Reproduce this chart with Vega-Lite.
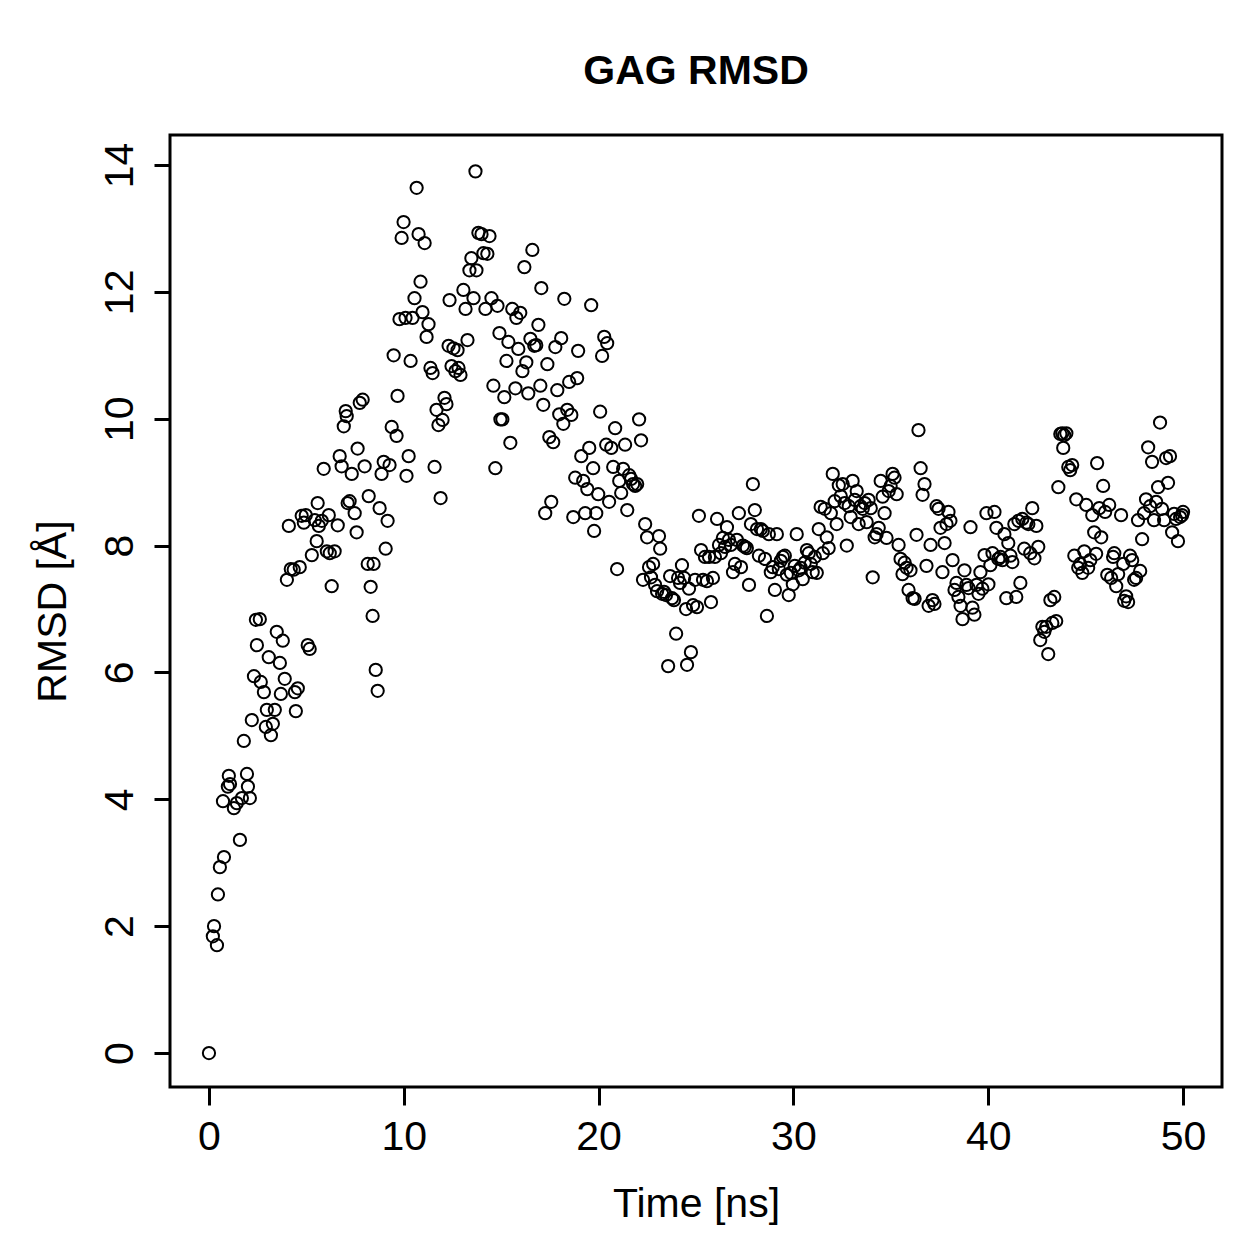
{
"$schema": "https://vega.github.io/schema/vega-lite/v6.json",
"width": 1052,
"height": 952,
"autosize": "none",
"padding": {"left": 170, "top": 135, "right": 37, "bottom": 172},
"background": "white",
"title": {"text": "GAG RMSD", "font": "Liberation Sans", "fontSize": 41, "fontWeight": "bold", "color": "black", "anchor": "middle", "frame": "group", "baseline": "alphabetic", "offset": 10},
"config": {"view": {"stroke": "black", "strokeWidth": 3}},
"data": {"values": [
{"t":0,"r":0},{"t":0.2,"r":1.84},{"t":0.26,"r":2.0},{"t":0.41,"r":1.7},{"t":0.46,"r":2.5},{"t":0.56,"r":2.93},{"t":0.72,"r":3.97},{"t":0.77,"r":3.09},{"t":0.97,"r":4.2},{"t":1.02,"r":4.37},
{"t":1.08,"r":4.24},{"t":1.28,"r":3.86},{"t":1.43,"r":3.94},{"t":1.59,"r":3.36},{"t":1.69,"r":4.02},{"t":1.79,"r":4.92},{"t":1.95,"r":4.4},{"t":2.0,"r":4.2},{"t":2.1,"r":4.02},{"t":2.2,"r":5.25},
{"t":2.31,"r":5.94},{"t":2.41,"r":6.83},{"t":2.46,"r":6.43},{"t":2.61,"r":6.84},{"t":2.66,"r":5.85},{"t":2.82,"r":5.69},{"t":2.92,"r":5.14},{"t":2.97,"r":5.41},{"t":3.07,"r":6.24},{"t":3.18,"r":5.01},
{"t":3.28,"r":5.19},{"t":3.38,"r":5.41},{"t":3.48,"r":6.64},{"t":3.64,"r":6.15},{"t":3.69,"r":5.66},{"t":3.79,"r":6.5},{"t":3.89,"r":5.9},{"t":4.0,"r":7.46},{"t":4.1,"r":8.31},{"t":4.2,"r":7.63},
{"t":4.35,"r":7.62},{"t":4.41,"r":5.69},{"t":4.46,"r":5.39},{"t":4.56,"r":5.75},{"t":4.66,"r":7.66},{"t":4.76,"r":8.47},{"t":4.87,"r":8.36},{"t":4.97,"r":8.48},{"t":5.07,"r":6.43},{"t":5.17,"r":6.37},
{"t":5.28,"r":7.85},{"t":5.43,"r":8.4},{"t":5.53,"r":8.07},{"t":5.58,"r":8.67},{"t":5.64,"r":8.31},{"t":5.79,"r":8.39},{"t":5.89,"r":9.21},{"t":6.05,"r":7.91},{"t":6.15,"r":8.48},{"t":6.2,"r":7.88},
{"t":6.3,"r":7.36},{"t":6.45,"r":7.91},{"t":6.61,"r":8.32},{"t":6.71,"r":9.41},{"t":6.81,"r":9.25},{"t":6.92,"r":9.88},{"t":7.02,"r":10.12},{"t":7.07,"r":10.04},{"t":7.12,"r":8.67},{"t":7.22,"r":8.7},
{"t":7.33,"r":9.13},{"t":7.48,"r":8.51},{"t":7.58,"r":8.21},{"t":7.63,"r":9.53},{"t":7.74,"r":10.25},{"t":7.89,"r":10.3},{"t":7.99,"r":9.25},{"t":8.15,"r":7.71},{"t":8.2,"r":8.78},{"t":8.3,"r":7.35},
{"t":8.4,"r":6.89},{"t":8.45,"r":7.71},{"t":8.56,"r":6.04},{"t":8.66,"r":5.71},{"t":8.76,"r":8.59},{"t":8.86,"r":9.13},{"t":8.97,"r":9.32},{"t":9.07,"r":7.95},{"t":9.17,"r":8.39},{"t":9.27,"r":9.27},
{"t":9.38,"r":9.87},{"t":9.48,"r":11.0},{"t":9.63,"r":9.73},{"t":9.68,"r":10.36},{"t":9.78,"r":11.57},{"t":9.89,"r":12.85},{"t":9.99,"r":13.1},{"t":10.09,"r":11.59},{"t":10.14,"r":9.1},{"t":10.25,"r":9.41},
{"t":10.35,"r":10.91},{"t":10.45,"r":11.59},{"t":10.55,"r":11.9},{"t":10.66,"r":13.64},{"t":10.76,"r":12.91},{"t":10.86,"r":12.16},{"t":10.96,"r":11.68},{"t":11.07,"r":12.77},{"t":11.17,"r":11.29},{"t":11.27,"r":11.49},
{"t":11.37,"r":10.8},{"t":11.48,"r":10.72},{"t":11.58,"r":9.24},{"t":11.68,"r":10.14},{"t":11.78,"r":9.9},{"t":11.89,"r":8.75},{"t":11.99,"r":9.98},{"t":12.09,"r":10.33},{"t":12.19,"r":10.23},{"t":12.3,"r":11.15},
{"t":12.35,"r":11.87},{"t":12.45,"r":10.83},{"t":12.55,"r":11.11},{"t":12.65,"r":10.75},{"t":12.76,"r":11.08},{"t":12.81,"r":10.8},{"t":12.91,"r":10.69},{"t":13.06,"r":12.03},{"t":13.17,"r":11.73},{"t":13.27,"r":11.24},
{"t":13.37,"r":12.34},{"t":13.47,"r":12.53},{"t":13.58,"r":11.9},{"t":13.68,"r":13.9},{"t":13.73,"r":12.34},{"t":13.83,"r":12.93},{"t":13.99,"r":12.91},{"t":14.09,"r":12.61},{"t":14.19,"r":11.73},{"t":14.29,"r":12.6},
{"t":14.4,"r":12.88},{"t":14.5,"r":11.9},{"t":14.6,"r":10.52},{"t":14.7,"r":9.22},{"t":14.81,"r":11.78},{"t":14.91,"r":11.35},{"t":14.96,"r":9.99},{"t":15.06,"r":9.99},{"t":15.16,"r":10.34},{"t":15.27,"r":10.91},
{"t":15.37,"r":11.21},{"t":15.47,"r":9.62},{"t":15.57,"r":11.73},{"t":15.73,"r":10.48},{"t":15.78,"r":11.59},{"t":15.88,"r":11.1},{"t":15.98,"r":11.67},{"t":16.09,"r":10.75},{"t":16.19,"r":12.39},{"t":16.29,"r":10.89},
{"t":16.39,"r":10.4},{"t":16.5,"r":11.26},{"t":16.6,"r":12.66},{"t":16.7,"r":11.15},{"t":16.8,"r":11.16},{"t":16.91,"r":11.48},{"t":17.01,"r":10.52},{"t":17.06,"r":12.06},{"t":17.16,"r":10.22},{"t":17.26,"r":8.51},
{"t":17.37,"r":10.86},{"t":17.47,"r":9.71},{"t":17.57,"r":8.69},{"t":17.67,"r":9.63},{"t":17.78,"r":11.13},{"t":17.88,"r":10.45},{"t":17.98,"r":10.07},{"t":18.08,"r":11.27},{"t":18.19,"r":9.92},{"t":18.24,"r":11.89},
{"t":18.39,"r":10.14},{"t":18.49,"r":10.58},{"t":18.6,"r":10.06},{"t":18.7,"r":8.45},{"t":18.8,"r":9.07},{"t":18.9,"r":10.64},{"t":18.95,"r":11.07},{"t":19.11,"r":9.41},{"t":19.21,"r":9.02},{"t":19.31,"r":8.51},
{"t":19.42,"r":8.89},{"t":19.52,"r":9.54},{"t":19.62,"r":11.79},{"t":19.72,"r":9.22},{"t":19.77,"r":8.23},{"t":19.88,"r":8.51},{"t":19.98,"r":8.81},{"t":20.08,"r":10.11},{"t":20.18,"r":10.99},{"t":20.29,"r":11.29},
{"t":20.39,"r":9.59},{"t":20.44,"r":11.19},{"t":20.54,"r":8.69},{"t":20.65,"r":9.54},{"t":20.75,"r":9.24},{"t":20.85,"r":9.85},{"t":20.95,"r":7.63},{"t":21.06,"r":9.02},{"t":21.16,"r":8.83},{"t":21.26,"r":9.21},
{"t":21.36,"r":9.59},{"t":21.47,"r":8.56},{"t":21.57,"r":9.11},{"t":21.67,"r":9.05},{"t":21.77,"r":8.97},{"t":21.88,"r":8.94},{"t":21.98,"r":8.97},{"t":22.08,"r":9.99},{"t":22.18,"r":9.66},{"t":22.28,"r":7.46},
{"t":22.39,"r":8.34},{"t":22.49,"r":8.13},{"t":22.59,"r":7.66},{"t":22.69,"r":7.5},{"t":22.8,"r":7.71},{"t":22.9,"r":7.38},{"t":23.0,"r":7.28},{"t":23.1,"r":8.15},{"t":23.16,"r":7.95},{"t":23.26,"r":7.24},
{"t":23.36,"r":7.27},{"t":23.46,"r":7.22},{"t":23.57,"r":6.1},{"t":23.67,"r":7.52},{"t":23.77,"r":7.17},{"t":23.87,"r":7.14},{"t":23.98,"r":6.61},{"t":24.08,"r":7.49},{"t":24.18,"r":7.41},{"t":24.28,"r":7.69},
{"t":24.39,"r":7.49},{"t":24.49,"r":7.0},{"t":24.54,"r":6.12},{"t":24.64,"r":7.32},{"t":24.74,"r":6.32},{"t":24.85,"r":7.06},{"t":24.95,"r":7.46},{"t":25.05,"r":7.03},{"t":25.15,"r":8.47},{"t":25.26,"r":7.93},
{"t":25.36,"r":7.46},{"t":25.46,"r":7.82},{"t":25.56,"r":7.44},{"t":25.67,"r":7.82},{"t":25.77,"r":7.11},{"t":25.87,"r":7.49},{"t":25.97,"r":7.82},{"t":26.08,"r":8.42},{"t":26.18,"r":8.01},{"t":26.28,"r":7.88},
{"t":26.38,"r":8.12},{"t":26.49,"r":7.98},{"t":26.59,"r":8.29},{"t":26.69,"r":8.09},{"t":26.79,"r":8.01},{"t":26.9,"r":7.58},{"t":27.0,"r":7.71},{"t":27.1,"r":8.09},{"t":27.2,"r":8.51},{"t":27.31,"r":7.66},
{"t":27.41,"r":8.0},{"t":27.51,"r":7.98},{"t":27.61,"r":7.96},{"t":27.72,"r":7.38},{"t":27.82,"r":8.34},{"t":27.92,"r":8.97},{"t":28.02,"r":8.56},{"t":28.13,"r":8.26},{"t":28.23,"r":7.84},{"t":28.33,"r":8.26},
{"t":28.43,"r":8.23},{"t":28.54,"r":7.79},{"t":28.64,"r":6.89},{"t":28.74,"r":8.18},{"t":28.84,"r":7.58},{"t":28.94,"r":7.66},{"t":29.05,"r":7.3},{"t":29.15,"r":8.18},{"t":29.25,"r":7.63},{"t":29.35,"r":7.76},
{"t":29.46,"r":7.82},{"t":29.56,"r":7.84},{"t":29.66,"r":7.54},{"t":29.76,"r":7.22},{"t":29.87,"r":7.57},{"t":29.97,"r":7.39},{"t":30.07,"r":7.68},{"t":30.17,"r":8.18},{"t":30.28,"r":7.61},{"t":30.38,"r":7.65},
{"t":30.48,"r":7.47},{"t":30.58,"r":7.73},{"t":30.69,"r":7.93},{"t":30.79,"r":7.88},{"t":30.89,"r":7.71},{"t":30.99,"r":7.58},{"t":31.1,"r":7.82},{"t":31.2,"r":7.57},{"t":31.3,"r":8.26},{"t":31.4,"r":8.61},
{"t":31.51,"r":7.88},{"t":31.61,"r":8.58},{"t":31.71,"r":8.13},{"t":31.81,"r":7.96},{"t":31.92,"r":8.51},{"t":32.02,"r":9.13},{"t":32.12,"r":8.7},{"t":32.22,"r":8.34},{"t":32.33,"r":8.95},{"t":32.43,"r":8.78},
{"t":32.53,"r":8.97},{"t":32.63,"r":8.67},{"t":32.74,"r":8.0},{"t":32.84,"r":8.62},{"t":32.94,"r":8.45},{"t":33.04,"r":9.02},{"t":33.15,"r":8.72},{"t":33.25,"r":8.86},{"t":33.35,"r":8.34},{"t":33.45,"r":8.62},
{"t":33.56,"r":8.58},{"t":33.66,"r":8.67},{"t":33.76,"r":8.37},{"t":33.86,"r":8.72},{"t":33.97,"r":8.59},{"t":34.07,"r":7.5},{"t":34.17,"r":8.13},{"t":34.27,"r":8.18},{"t":34.38,"r":8.28},{"t":34.48,"r":9.02},
{"t":34.58,"r":8.77},{"t":34.68,"r":8.51},{"t":34.78,"r":8.12},{"t":34.89,"r":8.86},{"t":34.99,"r":8.94},{"t":35.09,"r":9.13},{"t":35.19,"r":9.07},{"t":35.3,"r":8.81},{"t":35.4,"r":8.01},{"t":35.5,"r":7.79},
{"t":35.6,"r":7.55},{"t":35.71,"r":7.73},{"t":35.81,"r":7.65},{"t":35.91,"r":7.3},{"t":36.01,"r":7.61},{"t":36.12,"r":7.17},{"t":36.22,"r":7.16},{"t":36.32,"r":8.17},{"t":36.42,"r":9.82},{"t":36.53,"r":9.22},
{"t":36.63,"r":8.8},{"t":36.73,"r":8.97},{"t":36.83,"r":7.68},{"t":36.94,"r":7.05},{"t":37.04,"r":8.01},{"t":37.14,"r":7.14},{"t":37.24,"r":7.08},{"t":37.35,"r":8.62},{"t":37.45,"r":8.58},{"t":37.55,"r":8.28},
{"t":37.65,"r":7.58},{"t":37.76,"r":8.04},{"t":37.86,"r":8.34},{"t":37.96,"r":8.53},{"t":38.06,"r":8.39},{"t":38.17,"r":7.77},{"t":38.27,"r":7.3},{"t":38.37,"r":7.41},{"t":38.47,"r":7.19},{"t":38.58,"r":7.05},
{"t":38.68,"r":6.84},{"t":38.78,"r":7.61},{"t":38.88,"r":7.38},{"t":38.99,"r":7.33},{"t":39.09,"r":8.29},{"t":39.19,"r":7.02},{"t":39.29,"r":6.91},{"t":39.4,"r":7.38},{"t":39.5,"r":7.24},{"t":39.6,"r":7.58},
{"t":39.7,"r":7.32},{"t":39.81,"r":7.85},{"t":39.91,"r":8.51},{"t":40.01,"r":7.39},{"t":40.11,"r":7.69},{"t":40.22,"r":7.88},{"t":40.32,"r":8.53},{"t":40.42,"r":8.28},{"t":40.52,"r":7.79},{"t":40.63,"r":7.82},
{"t":40.73,"r":7.77},{"t":40.83,"r":8.18},{"t":40.93,"r":7.17},{"t":41.03,"r":8.04},{"t":41.14,"r":7.84},{"t":41.24,"r":7.74},{"t":41.34,"r":8.34},{"t":41.44,"r":7.19},{"t":41.55,"r":8.39},{"t":41.65,"r":7.41},
{"t":41.75,"r":8.42},{"t":41.85,"r":7.95},{"t":41.96,"r":8.36},{"t":42.06,"r":8.34},{"t":42.16,"r":7.88},{"t":42.26,"r":8.59},{"t":42.37,"r":7.8},{"t":42.47,"r":8.31},{"t":42.57,"r":7.98},{"t":42.67,"r":6.51},
{"t":42.78,"r":6.72},{"t":42.88,"r":6.64},{"t":42.98,"r":6.72},{"t":43.08,"r":6.29},{"t":43.19,"r":7.14},{"t":43.29,"r":6.78},{"t":43.39,"r":7.19},{"t":43.49,"r":6.81},{"t":43.6,"r":8.92},{"t":43.7,"r":9.76},
{"t":43.8,"r":9.77},{"t":43.85,"r":9.54},{"t":43.9,"r":9.74},{"t":44.01,"r":9.77},{"t":44.11,"r":9.24},{"t":44.21,"r":9.19},{"t":44.31,"r":9.27},{"t":44.42,"r":7.84},{"t":44.52,"r":8.73},{"t":44.62,"r":7.65},
{"t":44.72,"r":7.71},{"t":44.83,"r":7.57},{"t":44.93,"r":7.91},{"t":45.03,"r":8.64},{"t":45.13,"r":7.65},{"t":45.24,"r":7.77},{"t":45.34,"r":8.48},{"t":45.44,"r":8.21},{"t":45.54,"r":7.87},{"t":45.59,"r":9.3},
{"t":45.7,"r":8.59},{"t":45.8,"r":8.13},{"t":45.9,"r":8.94},{"t":46.0,"r":8.53},{"t":46.11,"r":7.54},{"t":46.21,"r":8.64},{"t":46.31,"r":7.49},{"t":46.41,"r":7.82},{"t":46.47,"r":7.88},{"t":46.57,"r":7.36},
{"t":46.67,"r":7.55},{"t":46.82,"r":8.48},{"t":46.93,"r":7.71},{"t":46.98,"r":7.13},{"t":47.08,"r":7.2},{"t":47.18,"r":7.11},{"t":47.28,"r":7.84},{"t":47.39,"r":7.77},{"t":47.49,"r":7.46},{"t":47.59,"r":7.49},
{"t":47.69,"r":8.4},{"t":47.8,"r":7.6},{"t":47.9,"r":8.1},{"t":48.0,"r":8.51},{"t":48.1,"r":8.73},{"t":48.21,"r":9.55},{"t":48.31,"r":8.62},{"t":48.41,"r":9.32},{"t":48.51,"r":8.4},{"t":48.62,"r":8.69},
{"t":48.72,"r":8.92},{"t":48.82,"r":9.94},{"t":48.92,"r":8.58},{"t":49.03,"r":8.4},{"t":49.13,"r":9.38},{"t":49.23,"r":8.99},{"t":49.33,"r":9.41},{"t":49.44,"r":8.21},{"t":49.54,"r":8.5},{"t":49.64,"r":8.42},
{"t":49.74,"r":8.07},{"t":49.85,"r":8.45},{"t":49.95,"r":8.48},{"t":50.0,"r":8.53}
]},
"mark": {"type": "point", "shape": "circle", "filled": false, "stroke": "black", "strokeWidth": 2, "size": 150, "opacity": 1, "clip": false},
"encoding": {
"x": {"field": "t", "type": "quantitative",
  "scale": {"domain": [-2, 52], "nice": false, "zero": false},
  "axis": {"values": [0, 10, 20, 30, 40, 50], "title": "Time [ns]", "grid": false, "domain": false,
    "ticks": true, "tickColor": "black", "tickWidth": 3, "tickSize": 18,
    "labelFont": "Liberation Sans", "labelFontSize": 41, "labelColor": "black", "labelBaseline": "alphabetic", "labelPadding": 44, "labelFlush": false,
    "titleFont": "Liberation Sans", "titleFontSize": 41, "titleFontWeight": "normal", "titleColor": "black", "titleBaseline": "alphabetic", "titleY": 129}},
"y": {"field": "r", "type": "quantitative",
  "scale": {"domain": [-0.536, 14.473], "nice": false, "zero": false},
  "axis": {"values": [0, 2, 4, 6, 8, 10, 12, 14], "title": "RMSD [Å]", "grid": false, "domain": false,
    "ticks": true, "tickColor": "black", "tickWidth": 3, "tickSize": 16,
    "labelFont": "Liberation Sans", "labelFontSize": 41, "labelColor": "black", "labelAngle": -90, "labelAlign": "center", "labelBaseline": "alphabetic", "labelPadding": 22, "labelFlush": false,
    "titleFont": "Liberation Sans", "titleFontSize": 41, "titleFontWeight": "normal", "titleColor": "black", "titleAngle": -90, "titleBaseline": "alphabetic", "titleAlign": "center", "titleX": -105}}
}
}
